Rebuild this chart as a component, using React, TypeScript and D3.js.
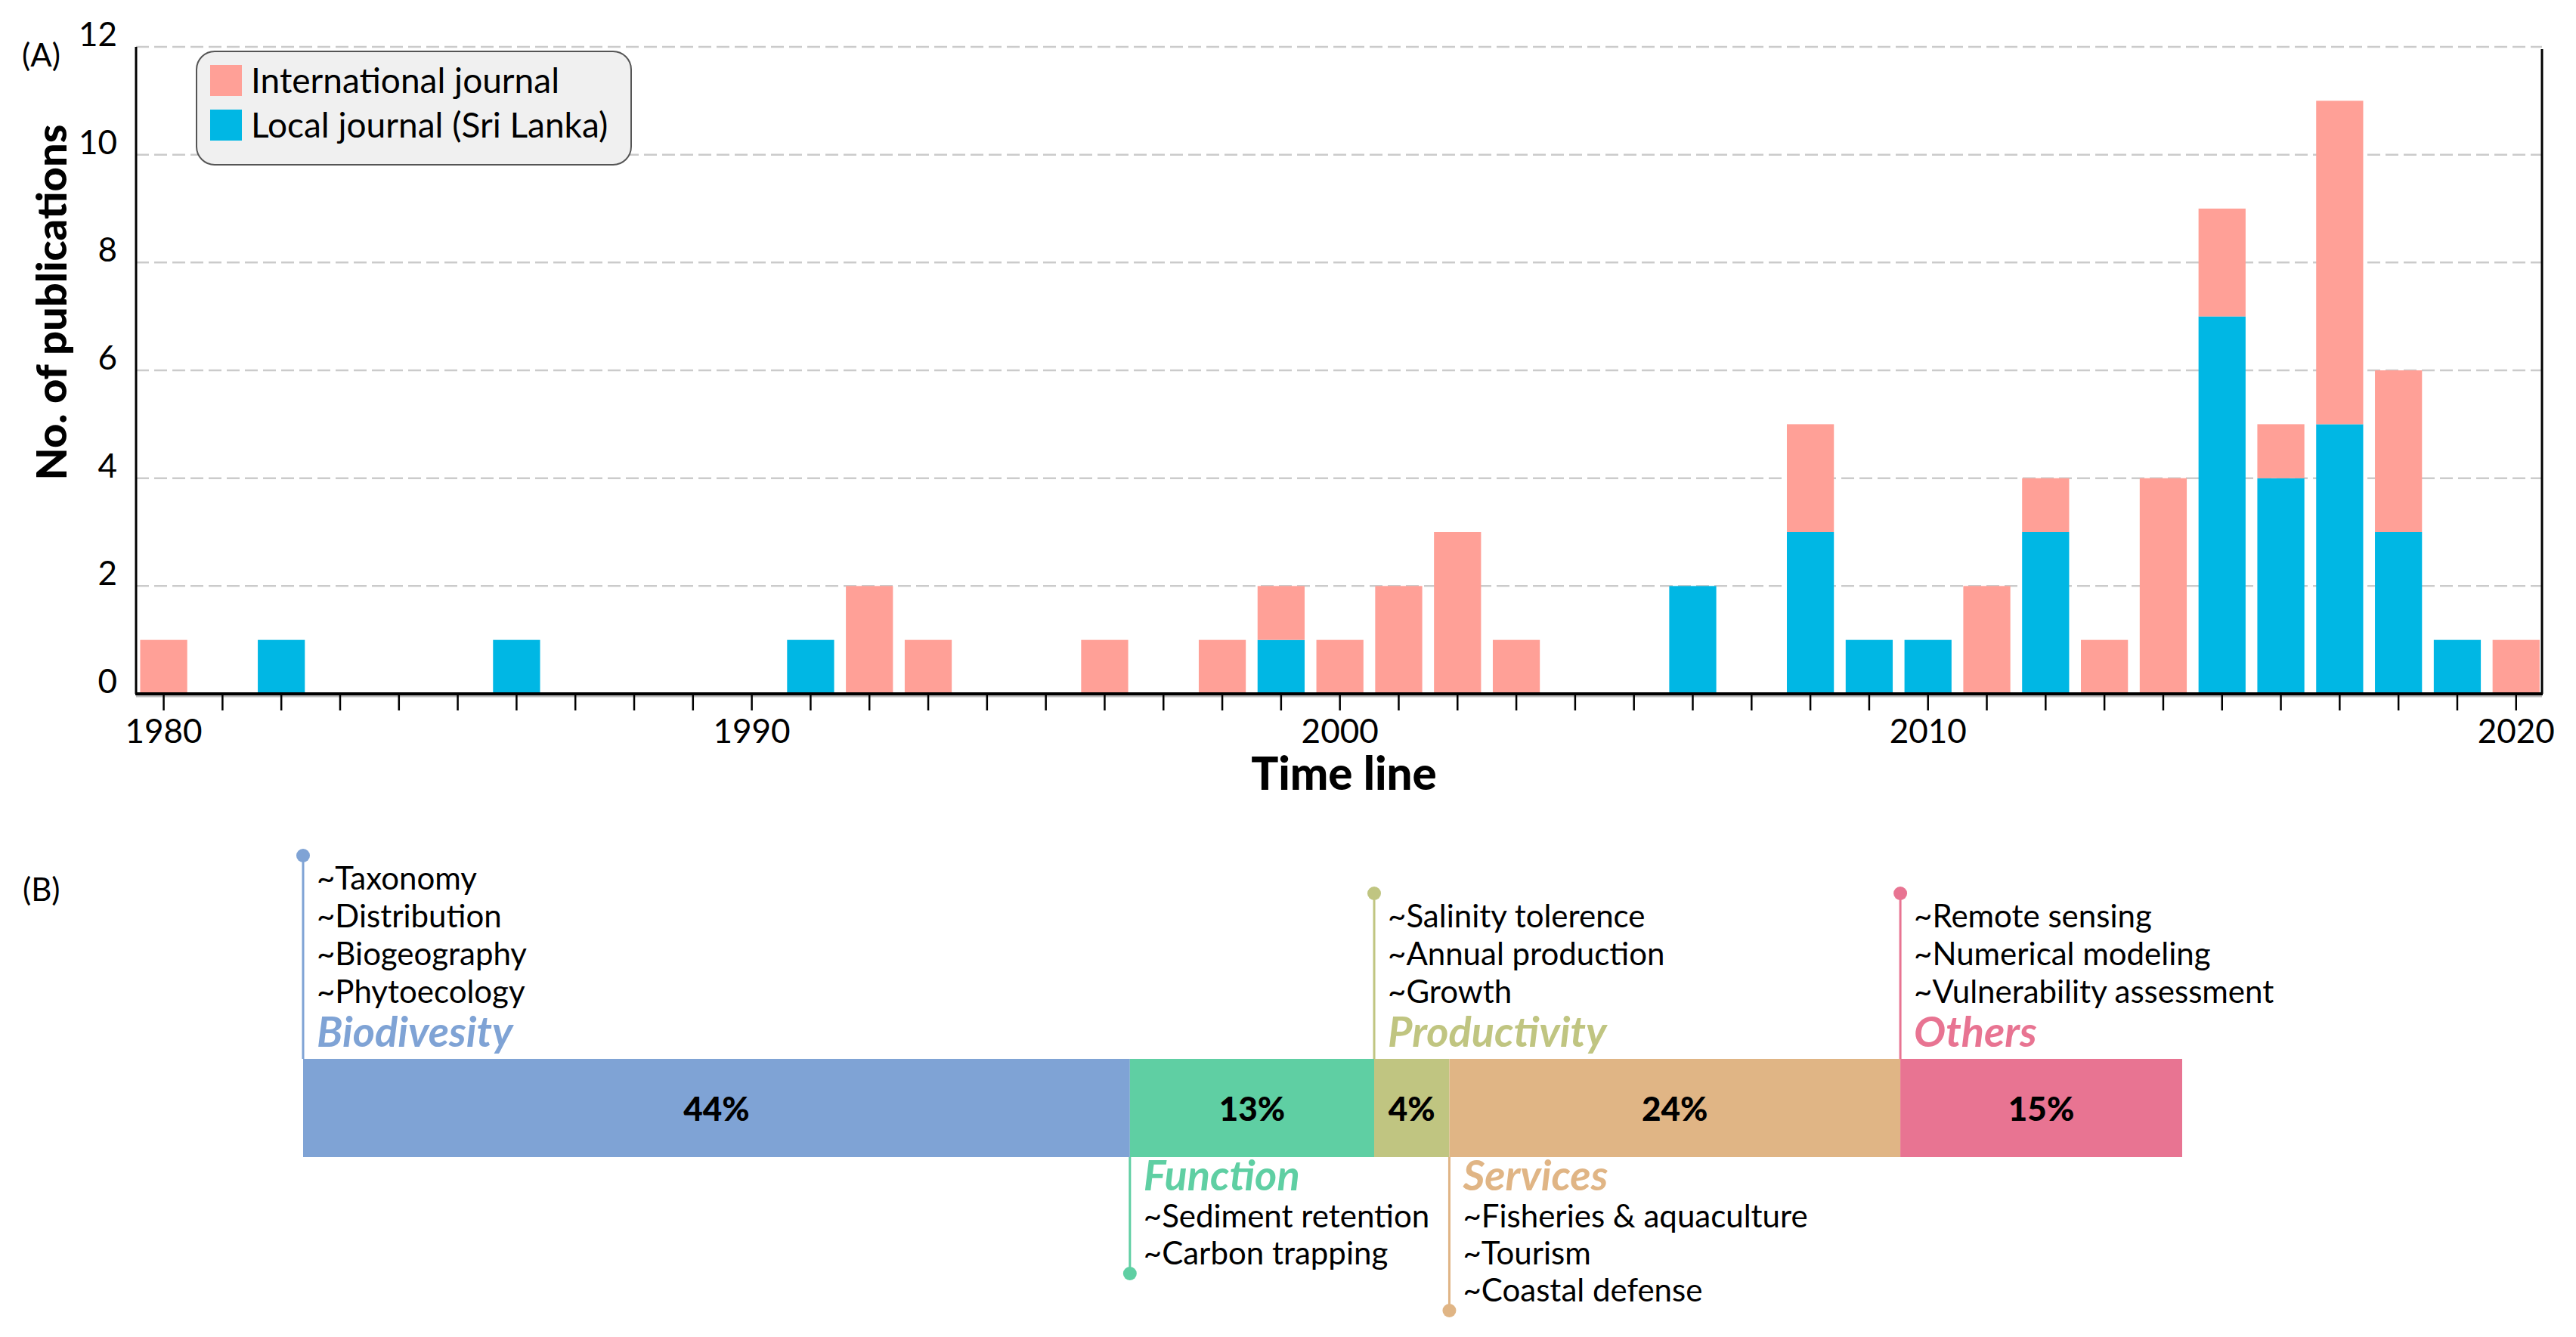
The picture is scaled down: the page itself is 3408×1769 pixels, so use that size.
import React from 'react'
import * as d3 from 'd3'

// (A) publications per year
const years = [1980, 1982, 1986, 1991, 1992, 1993, 1996, 1998, 1999, 2000, 2001, 2002, 2003, 2006, 2008, 2009, 2010, 2011, 2012, 2013, 2014, 2015, 2016, 2017, 2018, 2019, 2020]
const localJournal = [0, 1, 1, 1, 0, 0, 0, 0, 1, 0, 0, 0, 0, 2, 3, 1, 1, 0, 3, 0, 0, 7, 4, 5, 3, 1, 0]
const intlJournal = [1, 0, 0, 0, 2, 1, 1, 1, 1, 1, 2, 3, 1, 0, 2, 0, 0, 2, 1, 1, 4, 2, 1, 6, 3, 0, 1]
const yTicks = [0, 2, 4, 6, 8, 10, 12]
const yearLabels = [1980, 1990, 2000, 2010, 2020]
const seriesNames = ['International journal', 'Local journal (Sri Lanka)']
const seriesColors = ['#ffa097', '#00b7e4']

// (B) research themes
const themes = ['Biodivesity', 'Function', 'Productivity', 'Services', 'Others']
const shares = [44, 13, 4, 24, 15]
const themeColors = ['#7fa3d5', '#5fcfa3', '#c0c581', '#e0b585', '#e87492']
const themeSide = ['above', 'below', 'above', 'below', 'above']
const themeTopics = [
  ['~Taxonomy', '~Distribution', '~Biogeography', '~Phytoecology'],
  ['~Sediment retention', '~Carbon trapping'],
  ['~Salinity tolerence', '~Annual production', '~Growth'],
  ['~Fisheries & aquaculture', '~Tourism', '~Coastal defense'],
  ['~Remote sensing', '~Numerical modeling', '~Vulnerability assessment'],
]

const FONT = 'Lato, "Open Sans", sans-serif'

export default function App() {
  const W = 3408
  const H = 1769

  // panel A
  const x = d3.scaleLinear().domain([1979.53, 2020.44]).range([180, 3363])
  const y = d3.scaleLinear().domain([0, 12]).range([918, 62])
  const barW = (x(1981) - x(1980)) * 0.8

  const rows = years.map((yr, i) => ({ year: yr, local: localJournal[i], intl: intlJournal[i] }))
  const stacked = d3.stack<any>().keys(['local', 'intl'])(rows)
  const allYears = d3.range(1980, 2021)

  // panel B
  const cum = shares.reduce((acc: number[], s, i) => { acc.push((acc[i - 1] || 0) + s); return acc }, [])
  const bx = d3.scaleLinear().domain([0, 100]).range([401, 2887])
  const barTop = 1401
  const barBot = 1531
  const lineGap = 50

  return (
    <svg width={W} height={H} style={{ position: 'absolute', left: 0, top: 0, background: '#fff' }} fontFamily={FONT}>
      {/* gridlines */}
      {yTicks.filter(t => t > 0).map(t => (
        <line key={'g' + t} x1={x.range()[0]} x2={x.range()[1]} y1={y(t)} y2={y(t)}
          stroke="#cbcbcb" strokeWidth={2.5} strokeDasharray="17 7" />
      ))}

      {/* bars */}
      {stacked.map((s, si) => (
        <g key={s.key} fill={si === 0 ? seriesColors[1] : seriesColors[0]}>
          {s.map((d: any, i: number) => d[1] - d[0] > 0 && (
            <rect key={i} x={x(d.data.year) - barW / 2} y={y(d[1])} width={barW} height={y(d[0]) - y(d[1])} />
          ))}
        </g>
      ))}

      {/* axes */}
      <line x1={x.range()[0]} x2={x.range()[0]} y1={y(12)} y2={y(0)} stroke="#000" strokeWidth={3} />
      <line x1={x.range()[1]} x2={x.range()[1]} y1={y(12) + 3} y2={y(0)} stroke="#000" strokeWidth={3} />
      <line x1={x.range()[0]} x2={x.range()[1]} y1={y(0) + 3} y2={y(0) + 3} stroke="#bbb" strokeWidth={3} />
      <line x1={x.range()[0] - 1} x2={x.range()[1] + 1} y1={y(0)} y2={y(0)} stroke="#000" strokeWidth={4} />
      {allYears.map(yr => (
        <line key={'t' + yr} x1={x(yr)} x2={x(yr)} y1={y(0)} y2={y(0) + 22} stroke="#000" strokeWidth={2.5} />
      ))}
      {yearLabels.map(yr => (
        <text key={'yl' + yr} x={x(yr)} y={983} textAnchor="middle" fontSize={44}>{yr}</text>
      ))}
      {yTicks.map(t => (
        <text key={'yt' + t} x={155} y={y(t) - 1} textAnchor="end" fontSize={44}>{t}</text>
      ))}
      <text transform="translate(88,400) rotate(-90)" textAnchor="middle" fontSize={56} fontWeight="900">No. of publications</text>
      <text x={1778} y={1045} textAnchor="middle" fontSize={60} fontWeight="900">Time line</text>
      <text x={29} y={88} fontSize={42}>(A)</text>

      {/* legend */}
      <rect x={260} y={68} width={575} height={150} rx={24} fill="#f0f0f0" stroke="#555" strokeWidth={2} />
      {seriesNames.map((n, i) => (
        <g key={n}>
          <rect x={278} y={86 + i * 59} width={42} height={41} fill={seriesColors[i]} />
          <text x={332} y={123 + i * 59} fontSize={46}>{n}</text>
        </g>
      ))}

      {/* panel B */}
      <text x={30} y={1192} fontSize={42}>(B)</text>
      {themes.map((name, i) => {
        const x0 = bx(cum[i] - shares[i])
        const x1 = bx(cum[i])
        const above = themeSide[i] === 'above'
        const topics = themeTopics[i]
        const n = topics.length
        const titleY = above ? barTop - 16 : barBot + 44
        const itemY = (k: number) => above ? titleY - 58 - (n - 1 - k) * lineGap : titleY + 49 + k * 49
        const dotY = above ? itemY(0) - 45 : itemY(n - 1) + 12
        return (
          <g key={name}>
            <rect x={x0} y={barTop} width={x1 - x0} height={barBot - barTop} fill={themeColors[i]} />
            <text x={(x0 + x1) / 2} y={1483} textAnchor="middle" fontSize={44} fontWeight="900">{shares[i]}%</text>
            <line x1={x0} x2={x0} y1={dotY} y2={above ? barTop : barBot} stroke={themeColors[i]} strokeWidth={3} />
            <circle cx={x0} cy={dotY} r={9} fill={themeColors[i]} />
            <text x={x0 + 18} y={titleY} fontSize={56} fontWeight="bold" fontStyle="italic" fill={themeColors[i]}>{name}</text>
            {topics.map((tp, k) => (
              <text key={tp} x={x0 + 18} y={itemY(k)} fontSize={42}>{tp}</text>
            ))}
          </g>
        )
      })}
    </svg>
  )
}
